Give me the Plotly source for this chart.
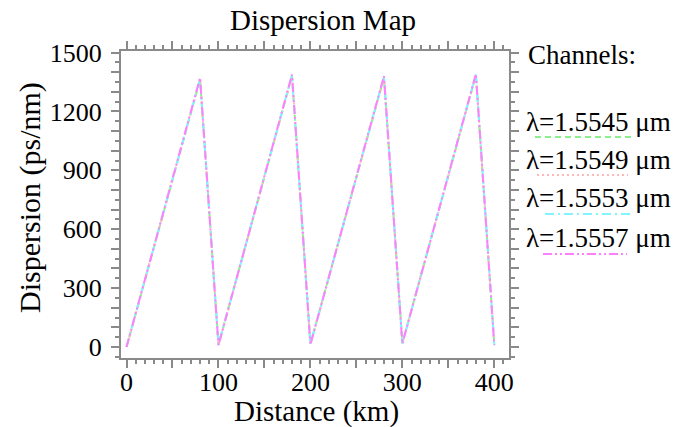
import plotly.graph_objects as go

distance_km = [0, 80, 100, 180, 200, 280, 300, 380, 400]
channel_names = ["λ=1.5545 μm", "λ=1.5549 μm", "λ=1.5553 μm", "λ=1.5557 μm"]
disp_1545 = [0, 1362, 12, 1380, 16, 1372, 20, 1384, 12]
disp_1549 = [0, 1365, 11, 1382, 15, 1375, 19, 1386, 11]
disp_1553 = [0, 1368, 10, 1385, 14, 1377, 18, 1389, 10]
disp_1557 = [0, 1371, 9, 1388, 13, 1380, 17, 1391, 9]

colors = ["#8cf08c", "#ffb8b8", "#80f4ff", "#ff80ff"]
dashes = ["6px,4px", "2px,3px", "9px,4px,2px,4px", "9px,3px,2px,3px,2px,3px"]
series = [disp_1545, disp_1549, disp_1553, disp_1557]

FONT = "Liberation Serif"
AX = "#8a8a8a"

fig = go.Figure()
for name, ys, c, d in zip(channel_names, series, colors, dashes):
    fig.add_trace(go.Scatter(x=distance_km, y=ys, mode="lines", name=name,
                             line=dict(color=c, width=2, dash=d), showlegend=False))

x_ticks = list(range(0, 401, 50))
x_text = [str(v) if v % 100 == 0 else "" for v in x_ticks]
y_ticks = list(range(0, 1501, 100))
y_text = [str(v) if v % 300 == 0 else "" for v in y_ticks]

W, H = 682, 427
ml, mr, mt, mb = 121, 173, 51, 69
pw, ph = W - ml - mr, H - mt - mb

fig.update_xaxes(range=[-6, 416], tickvals=x_ticks, ticktext=x_text,
                 ticks="outside", ticklen=8, tickwidth=2, tickcolor=AX,
                 minor=dict(dtick=10, ticks="outside", ticklen=4, tickwidth=2, tickcolor=AX),
                 showline=True, linecolor=AX, linewidth=2, mirror="allticks",
                 showgrid=False, zeroline=False, automargin=False,
                 ticklabelstandoff=-8,
                 tickfont=dict(family=FONT, size=26, color="black"))
fig.update_yaxes(range=[-56, 1508], tickvals=y_ticks, ticktext=y_text,
                 ticks="outside", ticklen=8, tickwidth=2, tickcolor=AX,
                 minor=dict(dtick=50, ticks="outside", ticklen=4, tickwidth=2, tickcolor=AX),
                 showline=True, linecolor=AX, linewidth=2, mirror="allticks",
                 showgrid=False, zeroline=False, automargin=False,
                 ticklabelstandoff=4,
                 tickfont=dict(family=FONT, size=26, color="black"))


def px(x):
    return (x - ml) / pw


def py(y):
    return (H - mb - y) / ph


text_y = [122, 160, 198, 238]
line_y = [137, 175, 214, 254]
line_x0 = [535, 537, 545, 543]
line_x1 = [632, 628, 630, 627]

anns = [
    dict(text="Distance (km)", x=px(316), y=py(411), xref="paper", yref="paper",
         xanchor="center", yanchor="middle", showarrow=False,
         font=dict(family=FONT, size=29, color="black")),
    dict(text="Dispersion (ps/nm)", x=px(30), y=py(198), xref="paper", yref="paper",
         xanchor="center", yanchor="middle", showarrow=False, textangle=-90,
         font=dict(family=FONT, size=30, color="black")),
    dict(text="Channels:", x=px(526), y=py(55), xref="paper", yref="paper",
         xanchor="left", yanchor="middle", showarrow=False,
         font=dict(family=FONT, size=27, color="black")),
]
shapes = []
for i, name in enumerate(channel_names):
    anns.append(dict(text=name, x=px(524), y=py(text_y[i]), xref="paper", yref="paper",
                     xanchor="left", yanchor="middle", showarrow=False,
                     font=dict(family=FONT, size=27, color="black")))
    shapes.append(dict(type="line", xref="paper", yref="paper",
                       x0=px(line_x0[i]), x1=px(line_x1[i]), y0=py(line_y[i]), y1=py(line_y[i]),
                       line=dict(color=colors[i], width=2, dash=dashes[i])))

fig.update_layout(
    width=W, height=H,
    margin=dict(l=ml, r=mr, t=mt, b=mb, autoexpand=False),
    paper_bgcolor="white", plot_bgcolor="white",
    title=dict(text="Dispersion Map", x=(228 + 418) / 2 / W, xanchor="center",
               y=1 - 20 / H, yanchor="middle",
               font=dict(family=FONT, size=29, color="black")),
    annotations=anns, shapes=shapes,
)

fig.write_html("out.html", config={"displayModeBar": False},
               post_script="document.body.style.margin='0';document.body.style.overflow='hidden';")
